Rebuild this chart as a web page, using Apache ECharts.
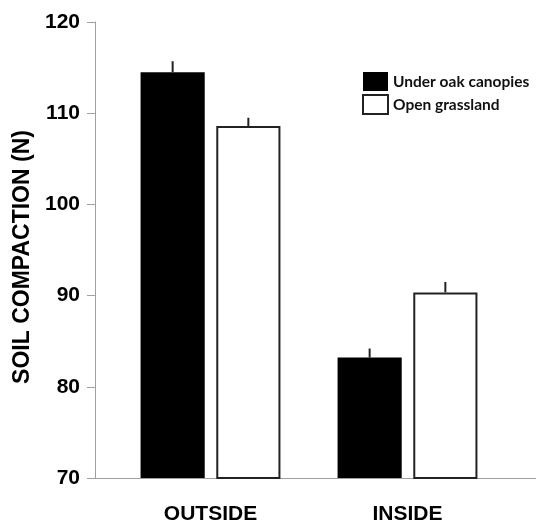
<!DOCTYPE html>
<html><head><meta charset="utf-8">
<script src="https://cdn.jsdelivr.net/npm/echarts@6/dist/echarts.min.js"></script>
<style>html,body{margin:0;padding:0;background:#fff}#c{width:536px;height:522px}</style>
</head><body><div id="c"></div>
<script>
const categories = ['OUTSIDE', 'INSIDE'];
const seriesNames = ['Under oak canopies', 'Open grassland'];
const oakValues = [114.5, 83.2];
const oakErrors = [1.2, 1.0];
const grassValues = [108.6, 90.35];
const grassErrors = [0.9, 1.15];
const yTicks = [70, 80, 90, 100, 110, 120];

const catGap = 0.29, barGapFrac = 0.18;
function errSeries(vals, errs, sign) {
  return {
    type: 'custom', xAxisIndex: 1, yAxisIndex: 1, z: 5, silent: true,
    data: vals.map((v, i) => [i, v, v + errs[i]]),
    renderItem: function (params, api) {
      const band = api.size([1, 0])[0];
      const w = band * (1 - catGap) / (2 + barGapFrac);
      const off = sign * (w / 2 + w * barGapFrac / 2);
      const p0 = api.coord([api.value(0), api.value(1)]);
      const p1 = api.coord([api.value(0), api.value(2)]);
      return { type: 'line', shape: { x1: p0[0] + off, y1: p0[1], x2: p1[0] + off, y2: p1[1] },
        style: { stroke: '#222', lineWidth: 2 } };
    }
  };
}

const chart = echarts.init(document.getElementById('c'));
chart.setOption({
  animation: false,
  grid: [
    { left: 95, right: 0, top: 22, bottom: 44, containLabel: false, outerBoundsMode: 'none' },
    { left: 112, right: 30, top: 22, bottom: 44, containLabel: false, outerBoundsMode: 'none' }
  ],
  legend: {
    orient: 'vertical', left: 357, top: 67, itemWidth: 25, itemHeight: 19, itemGap: 3,
    textStyle: { fontFamily: 'Lato', fontSize: 15.5, color: '#111', fontWeight: 'bold' },
    data: [
      { name: seriesNames[0], icon: 'rect', itemStyle: { color: '#000', borderColor: '#000', borderWidth: 0 } },
      { name: seriesNames[1], icon: 'rect', itemStyle: { color: '#fff', borderColor: '#222', borderWidth: 2 } }
    ]
  },
  xAxis: [
    { type: 'category', gridIndex: 0, data: categories, axisLine: { lineStyle: { color: '#a0a0a0', width: 1 } },
      axisTick: { show: false }, axisLabel: { show: false } },
    { type: 'category', gridIndex: 1, data: categories, axisLine: { show: false }, axisTick: { show: false },
      axisLabel: { margin: 26, fontFamily: 'Liberation Sans', fontWeight: 'bold', fontSize: 21, color: '#000' } }
  ],
  yAxis: [
    { type: 'value', gridIndex: 0, min: yTicks[0], max: yTicks[yTicks.length - 1], interval: 10,
      splitLine: { show: false },
      axisLine: { show: true, lineStyle: { color: '#a0a0a0', width: 1 } },
      axisTick: { show: true, length: 8, lineStyle: { color: '#a0a0a0' } },
      axisLabel: { margin: 15, fontFamily: 'Liberation Sans', fontWeight: 'bold', fontSize: 21, color: '#000' },
      name: 'SOIL COMPACTION (N)', nameLocation: 'middle', nameGap: 61,
      nameTextStyle: { fontFamily: 'Liberation Sans', fontWeight: 'bold', fontSize: 23, color: '#000', padding: [0, 14, 0, 0] } },
    { type: 'value', gridIndex: 1, min: yTicks[0], max: yTicks[yTicks.length - 1], interval: 10, show: false, splitLine: { show: false } }
  ],
  series: [
    { name: seriesNames[0], type: 'bar', xAxisIndex: 1, yAxisIndex: 1, data: oakValues,
      barCategoryGap: (catGap * 100) + '%', barGap: (barGapFrac * 100) + '%',
      itemStyle: { color: '#000', borderColor: '#000', borderWidth: 0 } },
    { name: seriesNames[1], type: 'bar', xAxisIndex: 1, yAxisIndex: 1, data: grassValues,
      barCategoryGap: (catGap * 100) + '%', barGap: (barGapFrac * 100) + '%',
      itemStyle: { color: '#fff', borderColor: '#222', borderWidth: 2 } },
    errSeries(oakValues, oakErrors, -1),
    errSeries(grassValues, grassErrors, 1)
  ]
});
</script></body></html>
